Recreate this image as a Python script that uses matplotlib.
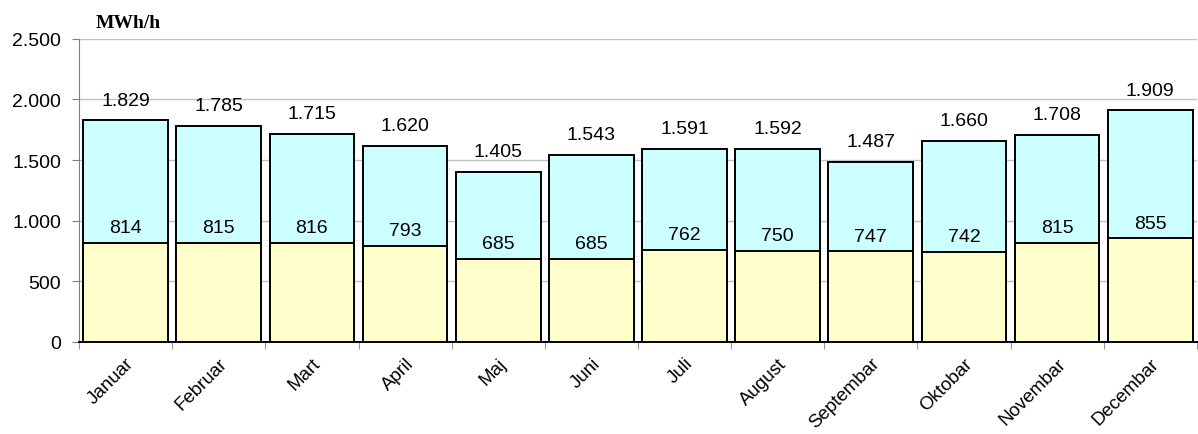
import numpy as np
import matplotlib.pyplot as plt
from matplotlib.ticker import FuncFormatter

months = ['Januar', 'Februar', 'Mart', 'April', 'Maj', 'Juni', 'Juli',
          'August', 'Septembar', 'Oktobar', 'Novembar', 'Decembar']
max_load = [1829, 1785, 1715, 1620, 1405, 1543, 1591, 1592, 1487, 1660, 1708, 1909]
min_load = [814, 815, 816, 793, 685, 685, 762, 750, 747, 742, 815, 855]


def fmt(v):
    return f'{int(v):,}'.replace(',', '.')


plt.rcParams['font.family'] = ['Liberation Sans', 'DejaVu Sans']

fig = plt.figure(figsize=(11.98, 4.35), dpi=100)
ax = fig.add_axes([0.066, 0.2115, 0.933, 0.697])

x = np.arange(len(months))
w = 0.91
ax.bar(x, max_load, width=w, color='#CCFFFF', edgecolor='black', linewidth=1.4, zorder=2)
ax.bar(x, min_load, width=w, color='#FFFFCC', edgecolor='black', linewidth=1.4, zorder=3)

for i in x:
    ax.annotate(fmt(max_load[i]), (i, max_load[i]), xytext=(0, 14.5), textcoords='offset points',
                ha='center', va='center', fontsize=14, zorder=4)
    ax.annotate(fmt(min_load[i]), (i, min_load[i]), xytext=(0, 11), textcoords='offset points',
                ha='center', va='center', fontsize=14, zorder=4)

ax.set_xlim(-0.5, len(months) - 0.5)
ax.set_ylim(0, 2500)
ax.set_yticks(range(0, 2501, 500))
ax.yaxis.set_major_formatter(FuncFormatter(lambda v, p: fmt(v)))
ax.grid(axis='y', color='#c0c0c0', linewidth=1, zorder=0)
ax.set_axisbelow(True)

ax.set_xticks(x)
ax.set_xticklabels(months, rotation=45, ha='right', rotation_mode='anchor')
ax.set_xticks(np.arange(-0.5, len(months)), minor=True)
ax.tick_params(axis='x', which='major', length=0, labelsize=13.5, pad=9)
ax.tick_params(axis='x', which='minor', length=5, color='#808080')
ax.tick_params(axis='y', length=5, labelsize=14, color='#808080', pad=8)

for s in ['top', 'right']:
    ax.spines[s].set_visible(False)
ax.spines['left'].set_color('#808080')
ax.spines['bottom'].set_color('black')
ax.spines['bottom'].set_linewidth(1.4)

fig.text(0.107, 0.947, 'MWh/h', ha='center', va='center', fontsize=14,
         fontweight='bold', family='Liberation Serif')

fig.savefig('out.png', dpi=100)
